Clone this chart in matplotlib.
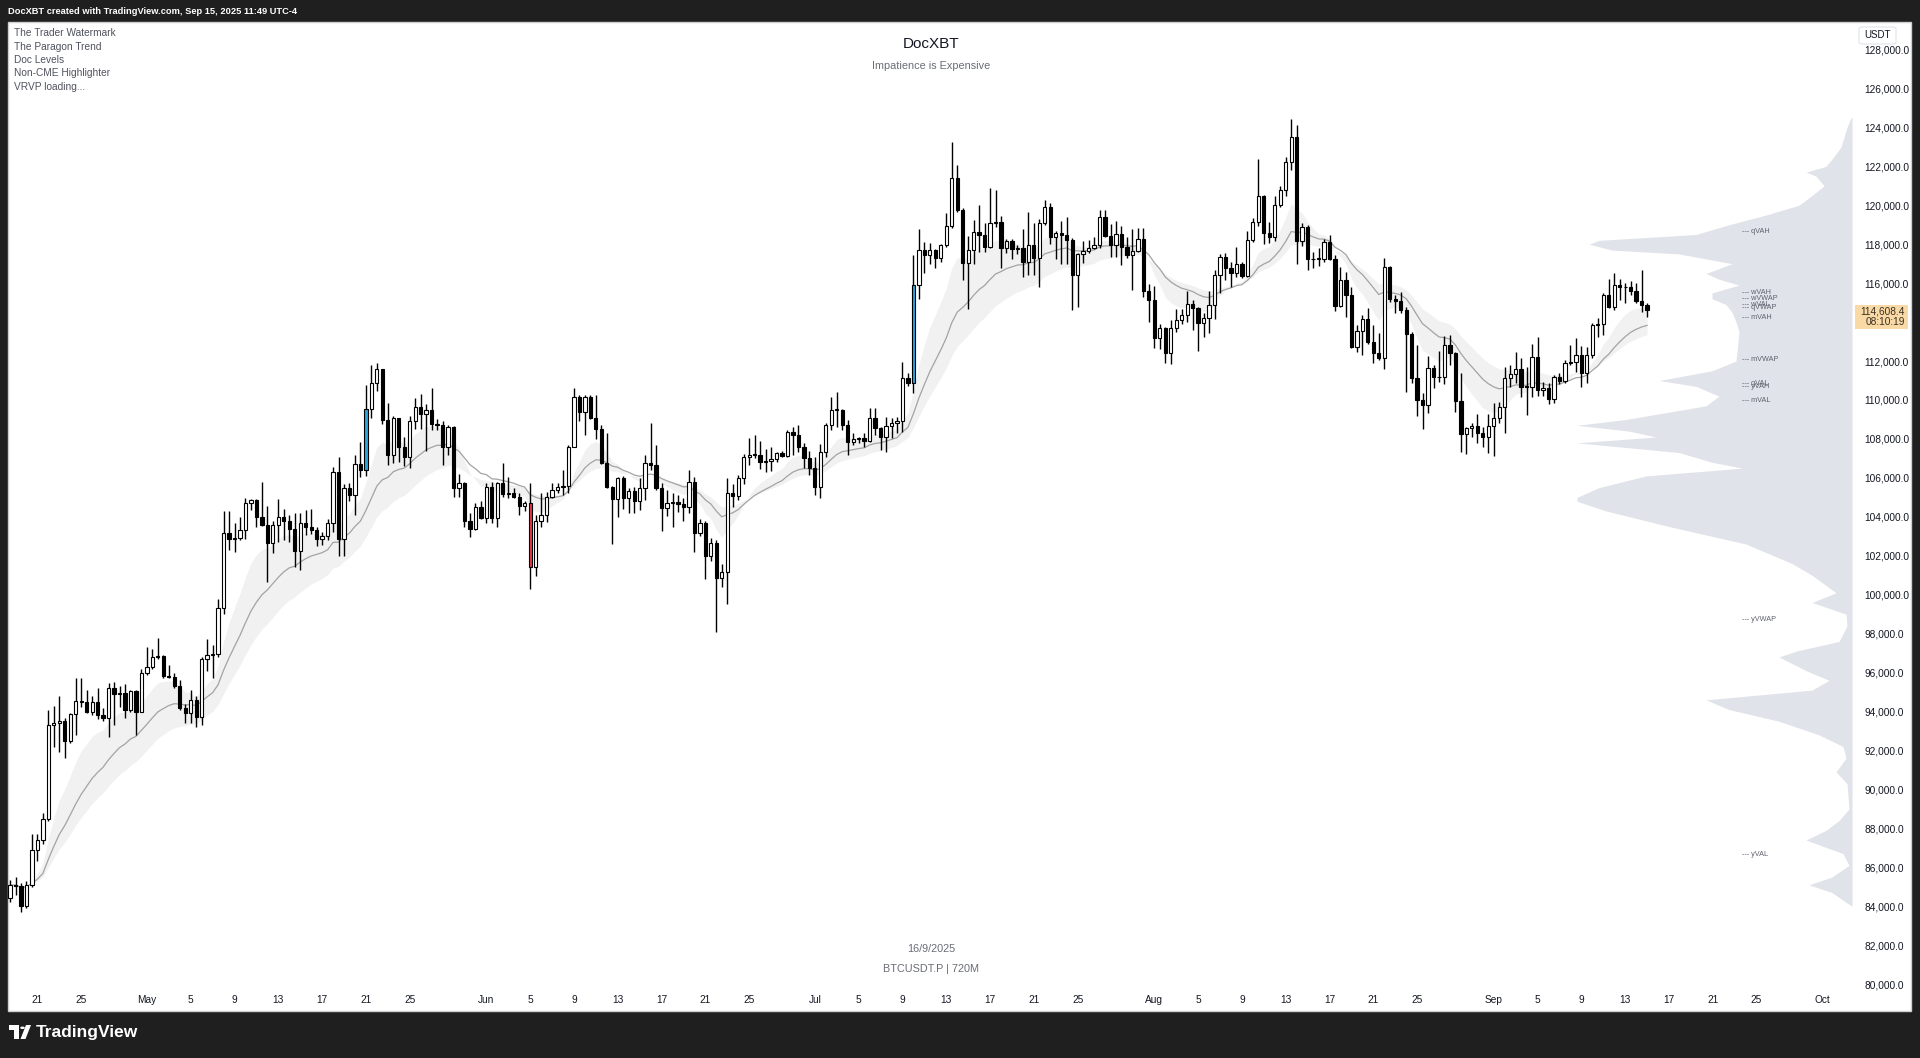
import numpy as np
import pandas as pd
import matplotlib
matplotlib.use("Agg")
import matplotlib.pyplot as plt
import matplotlib.dates as mdates
from matplotlib.patches import Rectangle, FancyBboxPatch, Polygon, Circle

plt.rcParams['font.family'] = ['Liberation Sans', 'DejaVu Sans']

# ---------------- data (prices in thousands USDT, 12h candles) ----------------
start_time = "2025-04-18 12:00"
opens = [84.40,85.09,85.05,84.00,85.10,86.90,87.40,88.50,93.30,93.40,93.50,92.50,93.85,94.56,94.50,94.00,94.50,93.80,93.65,95.20,
         94.90,94.97,94.10,95.05,94.00,96.00,96.30,96.80,96.85,95.80,95.78,95.30,94.20,93.90,94.60,93.70,96.70,96.90,96.95,99.30,
         103.15,102.84,102.90,103.30,104.70,104.85,103.97,103.58,102.67,103.60,104.00,103.80,103.36,102.26,103.70,103.50,103.30,102.84,103.00,103.70,
         106.30,102.84,105.46,105.10,106.70,106.40,109.54,110.85,111.57,108.97,107.17,109.06,107.60,107.09,108.90,109.66,109.30,109.50,108.77,108.70,
         107.60,108.60,105.46,105.75,103.80,103.36,104.52,103.92,105.55,103.92,105.75,105.17,105.24,105.00,104.56,104.70,101.40,103.80,104.10,105.00,
         105.40,105.55,105.60,107.60,110.17,109.40,110.17,109.10,108.50,106.78,105.55,104.90,105.98,104.95,105.30,104.83,105.46,106.75,106.66,105.50,
         104.43,104.70,104.78,104.66,104.52,105.80,103.15,103.70,101.99,102.64,100.84,101.18,105.20,105.07,105.98,107.09,107.17,107.20,106.83,106.88,
         106.95,107.26,107.14,108.37,108.20,107.57,107.00,106.50,105.55,107.34,108.72,109.48,109.50,108.72,107.86,107.98,108.03,107.90,109.06,108.54,
         108.12,108.66,108.83,108.94,111.11,110.89,115.90,117.70,117.45,117.70,117.28,117.96,118.94,121.38,119.76,117.02,117.70,118.64,118.47,117.87,
         119.11,119.14,117.79,118.18,117.74,117.79,117.10,117.96,117.28,119.07,119.90,118.39,118.60,118.47,118.22,116.42,117.50,117.67,117.79,117.96,
         119.38,118.42,117.96,118.52,117.87,117.45,117.67,118.25,115.62,115.14,113.17,113.68,112.43,113.68,114.11,114.36,114.93,114.70,113.97,114.19,
         114.88,116.42,117.36,116.76,116.54,116.98,116.37,118.22,119.16,120.48,118.60,118.35,120.00,120.80,122.20,123.50,118.18,118.87,117.22,117.26,
         117.26,118.13,117.26,114.83,116.16,115.39,112.74,113.56,114.14,112.99,112.40,112.14,116.81,115.17,115.10,114.62,113.39,111.11,110.00,109.74,
         111.62,111.20,111.16,112.82,112.43,109.96,108.25,108.54,108.66,108.29,108.12,108.66,109.10,109.62,111.11,111.33,111.57,110.68,110.65,112.23,
         110.51,110.60,110.03,111.20,110.99,111.92,111.95,112.31,111.37,112.31,113.85,113.90,115.39,114.79,115.90,115.80,115.78,115.60,115.10,114.88]
highs = [85.35,85.50,85.20,85.30,87.70,87.70,88.80,94.10,94.30,94.80,93.65,93.90,95.70,95.70,95.10,94.80,95.20,94.20,95.45,95.50,
         95.30,95.40,95.10,95.10,96.20,97.30,97.20,97.80,96.90,96.40,96.00,95.60,94.40,95.10,94.80,96.80,97.70,97.40,99.80,104.30,
         104.30,103.70,104.00,104.95,104.90,104.90,105.80,104.56,103.80,104.90,104.40,104.10,104.20,104.20,104.35,104.40,103.50,103.20,103.90,106.57,
         107.05,105.70,105.75,107.20,107.86,110.77,111.80,111.88,111.60,109.86,109.20,109.10,108.10,109.20,110.10,110.30,109.80,110.60,109.00,108.90,
         108.70,108.66,106.20,105.80,104.20,104.70,104.80,105.75,105.80,105.80,106.75,106.06,105.46,105.20,104.80,105.75,104.10,105.20,105.25,105.75,
         105.75,106.40,107.70,110.60,110.26,110.26,110.26,110.26,108.72,108.29,105.60,106.06,106.10,105.46,105.55,105.98,107.17,108.80,107.70,105.75,
         105.40,105.20,105.10,104.95,106.40,106.06,103.87,103.80,102.90,102.80,101.60,105.98,105.70,106.15,107.23,108.03,108.20,107.90,107.50,107.57,
         107.34,107.40,108.46,108.60,108.72,107.80,107.40,107.09,107.74,108.80,110.17,110.40,109.55,108.97,108.29,108.10,108.30,109.57,109.57,108.60,
         109.14,109.06,109.14,111.97,111.37,117.45,118.80,118.13,118.08,117.74,118.00,119.59,123.27,122.07,119.84,118.42,119.24,120.00,119.11,120.87,
         120.78,119.45,118.25,118.25,117.95,118.77,119.67,119.11,119.28,120.27,120.10,118.68,119.20,119.41,118.30,117.53,118.18,118.22,118.35,119.76,
         119.76,119.04,119.20,118.94,118.39,118.76,118.81,118.81,115.96,115.86,113.90,113.73,114.11,114.66,114.66,115.62,115.14,114.76,114.45,115.62,
         116.68,117.50,117.53,117.10,117.87,117.10,118.70,119.33,122.36,120.53,119.16,120.50,121.00,122.50,124.45,124.10,119.11,118.99,117.60,117.80,
         118.25,118.47,117.45,116.85,116.59,115.79,113.85,114.36,114.71,113.85,113.42,117.28,116.88,115.39,115.56,114.79,113.51,112.82,110.38,112.26,
         111.80,112.50,113.29,113.34,112.48,111.40,108.63,108.80,109.30,108.60,109.30,109.83,109.90,111.71,111.80,112.48,112.14,111.71,112.88,113.25,
         110.90,110.85,111.28,111.40,112.05,112.82,113.16,112.77,112.74,113.94,114.20,115.48,116.20,116.50,116.20,115.99,116.10,115.99,116.68,114.99]
lows = [84.23,84.60,83.70,83.90,85.00,86.30,87.20,88.40,92.20,91.90,91.60,92.40,92.80,94.25,93.90,93.80,93.60,93.50,92.70,93.30,
        94.25,93.65,94.00,92.80,94.00,95.90,96.20,96.70,95.70,95.70,95.20,94.10,93.40,93.40,93.20,93.30,96.10,95.70,96.80,99.00,
        102.30,102.20,102.80,102.84,104.35,103.50,103.55,100.67,102.16,102.70,102.80,102.70,101.40,101.27,103.07,103.10,102.50,102.55,102.80,103.20,
        101.99,101.99,104.80,104.10,106.06,106.10,109.10,110.48,108.77,106.66,106.75,106.83,106.60,106.50,108.50,108.50,107.40,108.46,108.46,106.66,
        107.17,105.00,105.00,103.46,102.98,103.30,103.87,103.66,103.70,103.50,105.03,104.95,104.95,104.10,104.30,100.28,100.96,103.46,103.75,104.95,
        105.20,105.10,105.20,107.57,108.94,108.20,109.00,107.98,106.70,105.50,102.60,104.00,104.40,104.20,104.20,104.35,104.86,106.40,105.40,103.29,
        104.04,103.47,104.26,103.80,104.18,102.20,103.00,100.79,101.75,98.10,100.40,99.52,104.52,104.86,105.68,106.66,107.00,106.44,106.30,106.37,
        106.83,107.05,107.09,107.20,107.35,106.50,106.15,105.12,104.95,107.09,108.46,108.60,108.46,107.17,107.69,107.80,107.60,107.86,108.20,107.43,
        107.35,108.03,108.29,108.37,110.72,110.38,115.17,116.54,116.98,116.80,117.10,117.87,118.82,119.67,116.16,114.65,116.98,117.62,117.62,117.80,
        118.90,116.76,117.53,117.22,117.50,116.33,116.42,116.42,115.82,119.00,118.00,117.22,116.98,116.98,114.62,114.79,117.05,117.53,117.75,117.79,
        118.39,117.36,117.36,116.93,117.28,115.65,117.62,115.30,114.02,112.65,112.60,111.88,111.85,113.51,113.90,114.02,113.60,112.53,113.25,113.42,
        114.14,115.50,116.16,115.82,116.30,116.25,116.33,118.13,118.94,118.01,118.05,118.18,119.90,120.50,121.80,116.98,117.90,116.68,116.80,116.90,
        117.10,117.19,114.59,114.76,114.25,112.65,112.48,112.31,112.88,111.88,112.05,111.57,115.05,114.45,114.48,110.43,110.85,109.18,108.49,109.31,
        110.60,110.90,110.82,111.80,109.40,107.34,107.22,108.08,107.80,107.60,107.26,107.12,108.80,108.29,110.68,110.85,110.17,109.23,110.17,110.20,
        110.20,109.79,109.83,110.82,110.85,111.80,111.45,110.68,110.85,112.14,113.25,113.34,114.70,114.62,115.13,114.96,115.40,115.00,114.54,114.28]
closes = opens[1:] + [114.61]

highlight_up = [65, 165]      # blue highlighted candles
highlight_down = [95]         # red highlighted candle

# volume profile (visible range), price levels (k) and relative volume
vp_price = [124.5,124.0,123.5,123.0,122.5,122.0,121.7,121.5,121.0,120.5,120.0,119.7,119.5,119.0,118.5,118.2,118.0,117.7,117.5,117.0,
            116.5,116.2,115.9,115.5,115.2,114.9,114.5,114.0,113.5,113.0,112.5,112.0,111.5,111.0,110.7,110.2,109.7,109.0,108.7,108.4,
            108.1,107.8,107.3,106.8,106.5,106.1,105.5,105.0,104.8,104.3,103.5,102.6,101.6,101.0,100.1,99.6,99.0,98.4,97.6,97.1,
            96.8,96.1,95.6,95.1,94.6,94.1,93.5,92.8,92.2,91.6,90.9,90.3,89.0,88.4,87.9,87.4,86.7,86.1,85.5,85.1,
            84.7,84.2,84.0]
vp_volume = [1,5,8,11,18,26,46,36,28,40,53,73,86,123,156,253,263,240,173,120,
             146,133,113,140,140,126,120,116,113,114,115,116,140,193,156,133,146,226,275,223,
             196,275,173,140,110,206,253,275,275,246,183,106,60,40,16,40,6,5,13,56,
             73,46,23,40,146,123,73,33,9,6,16,5,3,13,26,46,9,3,20,43,
             20,6,0]

vp_levels = [("--- qVAH", 118.64), ("--- wVAH", 115.50), ("--- wVWAP", 115.23), ("--- wVAL", 114.90),
             ("--- qVWAP", 114.75), ("--- mVAH", 114.26), ("--- mVWAP", 112.08), ("--- qVAL", 110.85),
             ("--- yVAH", 110.70), ("--- mVAL", 109.97), ("--- yVWAP", 98.74), ("--- yVAL", 86.66)]

legend_items = ["The Trader Watermark", "The Paragon Trend", "Doc Levels", "Non-CME Highlighter", "VRVP loading..."]
price_ticks = list(range(80000, 128001, 2000))
tick_dates = ["2025-04-21","2025-04-25","2025-05-01","2025-05-05","2025-05-09","2025-05-13","2025-05-17","2025-05-21","2025-05-25",
              "2025-06-01","2025-06-05","2025-06-09","2025-06-13","2025-06-17","2025-06-21","2025-06-25",
              "2025-07-01","2025-07-05","2025-07-09","2025-07-13","2025-07-17","2025-07-21","2025-07-25",
              "2025-08-01","2025-08-05","2025-08-09","2025-08-13","2025-08-17","2025-08-21","2025-08-25",
              "2025-09-01","2025-09-05","2025-09-09","2025-09-13","2025-09-17","2025-09-21","2025-09-25","2025-10-01"]
last_price = 114608.4
countdown = "08:10:19"

# ---------------- figure ----------------
W, H = 1920, 1058
fig = plt.figure(figsize=(W/100, H/100), dpi=100, facecolor="#1f1f1f")
def fx(x): return x / W
def fy(y): return 1 - y / H

fig.patches.append(Rectangle((fx(8), fy(1011)), (1911-8)/W, (1011-22)/H, transform=fig.transFigure,
                             facecolor="white", edgecolor="#cfcfcf", lw=1, zorder=-5))

ax = fig.add_axes([fx(8), fy(985), (1852-8)/W, (985-22)/H])
ax.set_facecolor("none")
ax.set_zorder(1)

o = np.array(opens) * 1000; h = np.array(highs) * 1000
l = np.array(lows) * 1000; c = np.array(closes) * 1000
t = pd.date_range(start_time, periods=len(opens), freq="12h")
x = mdates.date2num(t.to_pydatetime())

may1 = mdates.date2num(pd.Timestamp("2025-05-01").to_pydatetime())
px_per_day = 10.95
xl = may1 + (8 - 146.9) / px_per_day
xr = may1 + (1852 - 146.9) / px_per_day
ax.set_xlim(xl, xr)
ax.set_ylim(79954, 129413)

# volume profile
vp_p = np.array(vp_price) * 1000
vp_v = np.array(vp_volume, dtype=float)
vp_w = vp_v / vp_v.max() * (275 / px_per_day)
ax.fill_betweenx(vp_p, xr - vp_w, xr, color="#e0e3e9", lw=0, zorder=1)

# paragon trend (EMA based band)
def ema(v, n):
    a = 2 / (n + 1)
    out = np.empty_like(v)
    out[0] = v[0]
    for k in range(1, len(v)):
        out[k] = a * v[k] + (1 - a) * out[k-1]
    return out
e_mid = ema(c, 20); e_fast = ema(c, 10); e_slow = ema(c, 30)
ax.fill_between(x, e_fast, e_slow, color="#f1f1f1", lw=0, zorder=2)
ax.plot(x, e_mid, color="#a3a3a3", lw=0.9, zorder=2.5)

# candles
ax.vlines(x, l, h, color="black", lw=1.0, zorder=3)
fills = []
for i in range(len(x)):
    if i in highlight_up:
        fills.append("#2aa6e0")
    elif i in highlight_down:
        fills.append("#e8354a")
    elif c[i] >= o[i]:
        fills.append("white")
    else:
        fills.append("black")
body_lo = np.minimum(o, c)
body_h = np.maximum(np.abs(c - o), 45)
ax.bar(x, body_h, bottom=body_lo, width=0.30, color=fills, edgecolor="black", linewidth=0.8, zorder=4)

# vrvp level labels
lab_x = may1 + (1742 - 146.9) / px_per_day
for name, lvl in vp_levels:
    ax.text(lab_x, lvl * 1000, name, fontsize=5.2, color="#5d606b", va="center", ha="left", zorder=5)

# axes styling
for s in ax.spines.values():
    s.set_visible(False)
ax.yaxis.tick_right()
ax.set_yticks(price_ticks)
ax.set_yticklabels([f"{v:,.1f}" for v in price_ticks])
ax.tick_params(axis="y", length=0, pad=9, labelsize=7.3, labelcolor="#131722")
td = pd.to_datetime(tick_dates)
ax.set_xticks(mdates.date2num(td.to_pydatetime()))
ax.set_xticklabels([d.strftime("%b") if d.day == 1 else str(d.day) for d in td])
ax.tick_params(axis="x", length=0, pad=7, labelsize=7.3, labelcolor="#131722")

# current price label
fig.patches.append(Rectangle((fx(1855), fy(329)), 53/W, 24/H, transform=fig.transFigure,
                             facecolor="#f9d9a6", edgecolor="none", zorder=5))
fig.text(fx(1905), fy(311), f"{last_price:,.1f}", fontsize=7.3, color="#3b3020", ha="right", va="center", zorder=6)
fig.text(fx(1905), fy(322), countdown, fontsize=7.3, color="#3b3020", ha="right", va="center", zorder=6)

# USDT box
fig.patches.append(FancyBboxPatch((fx(1859), fy(44)), 37/W, 17/H, boxstyle="round,pad=0,rounding_size=0.002",
                                  transform=fig.transFigure, facecolor="white", edgecolor="#e0e3eb", lw=0.8, zorder=5))
fig.text(fx(1877.5), fy(35.5), "USDT", fontsize=7, color="#131722", ha="center", va="center", zorder=6)

# top bar text
fig.text(fx(8), fy(11), "DocXBT created with TradingView.com, Sep 15, 2025 11:49 UTC-4",
         fontsize=6.7, color="white", ha="left", va="center", fontweight="bold")

# indicator legend
for k, item in enumerate(legend_items):
    fig.text(fx(14), fy(33 + 13.5 * k), item, fontsize=7.3, color="#50535e", ha="left", va="center")

# watermark
fig.text(fx(931), fy(44), "DocXBT", fontsize=11, color="#131722", ha="center", va="center")
fig.text(fx(931), fy(66), "Impatience is Expensive", fontsize=7.8, color="#6a6d78", ha="center", va="center")
fig.text(fx(931), fy(949), "16/9/2025", fontsize=7.8, color="#6a6d78", ha="center", va="center")
fig.text(fx(931), fy(969), "BTCUSDT.P | 720M", fontsize=7.8, color="#6a6d78", ha="center", va="center")

# TradingView logo
fig.patches.append(Rectangle((fx(9), fy(1030)), 10/W, 5/H, transform=fig.transFigure, facecolor="white", zorder=5))
fig.patches.append(Rectangle((fx(14), fy(1039)), 5/W, 14/H, transform=fig.transFigure, facecolor="white", zorder=5))
fig.patches.append(Circle((fx(22.5), fy(1027.8)), 2.3/W, transform=fig.transFigure, facecolor="white", zorder=5))
fig.patches.append(Polygon([(fx(26), fy(1025)), (fx(31), fy(1025)), (fx(25.5), fy(1039)), (fx(20.5), fy(1039))],
                           closed=True, transform=fig.transFigure, facecolor="white", zorder=5))
fig.text(fx(36), fy(1032), "TradingView", fontsize=12.5, color="white", ha="left", va="center", fontweight="bold")

fig.savefig("out.png", dpi=100, facecolor=fig.get_facecolor())
